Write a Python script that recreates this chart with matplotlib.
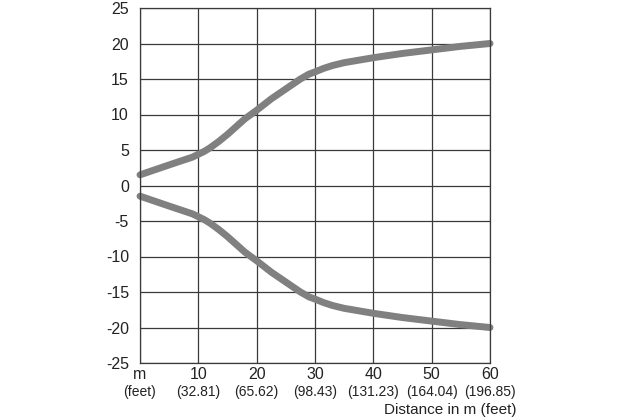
import matplotlib
matplotlib.use("Agg")
import matplotlib.pyplot as plt
import matplotlib.transforms as mtransforms

# Data
x_upper = [0, 5, 9, 10, 11, 12, 13.5, 15, 16.5, 18, 20, 22.5, 25, 27.5, 29, 30, 31.5, 33, 35, 40, 45, 50, 55, 60]
y_upper = [1.5, 2.9, 4.0, 4.4, 4.8, 5.3, 6.2, 7.2, 8.3, 9.4, 10.6, 12.2, 13.6, 15.0, 15.7, 16.0, 16.5, 16.9, 17.3, 18.0, 18.6, 19.1, 19.6, 20.0]
x_lower = [0, 5, 9, 10, 11, 12, 13.5, 15, 16.5, 18, 20, 22.5, 25, 27.5, 29, 30, 31.5, 33, 35, 40, 45, 50, 55, 60]
y_lower = [-1.5, -2.9, -4.0, -4.4, -4.8, -5.3, -6.2, -7.2, -8.3, -9.4, -10.6, -12.2, -13.6, -15.0, -15.7, -16.0, -16.5, -16.9, -17.3, -18.0, -18.6, -19.1, -19.6, -20.0]

x_ticks = [0, 10, 20, 30, 40, 50, 60]
x_tick_labels = ["m", "10", "20", "30", "40", "50", "60"]
x_sub_labels = ["(feet)", "(32.81)", "(65.62)", "(98.43)", "(131.23)", "(164.04)", "(196.85)"]
y_ticks = [-25, -20, -15, -10, -5, 0, 5, 10, 15, 20, 25]
y_tick_labels = ["-25", "-20", "-15", "-10", "-5", "0", "5", "10", "15", "20", "25"]
x_label = "Distance in m (feet)"

plt.rcParams['font.family'] = ['Liberation Sans', 'DejaVu Sans']

fig = plt.figure(figsize=(6.2, 4.2), dpi=100)
ax = fig.add_axes([140/620, 1 - 363/420, 350/620, 355/420])

grid_color = "#3a3a3a"
ax.set_xlim(0, 60)
ax.set_ylim(-25, 25)
ax.set_xticks(x_ticks)
ax.set_yticks(y_ticks)
ax.set_yticklabels(y_tick_labels, fontsize=11.5, color="#222222")
ax.set_xticklabels(x_tick_labels, fontsize=11.5, color="#222222")
ax.tick_params(axis='both', length=0)
ax.tick_params(axis='y', pad=8)
ax.tick_params(axis='x', pad=3)
ax.grid(True, color=grid_color, linewidth=0.9)
for s in ax.spines.values():
    s.set_color(grid_color)
    s.set_linewidth(0.9)
ax.set_axisbelow(True)

line_color = "#808080"
ax.plot(x_upper, y_upper, color=line_color, linewidth=5, solid_capstyle='round', solid_joinstyle='round', clip_on=False)
ax.plot(x_lower, y_lower, color=line_color, linewidth=5, solid_capstyle='round', solid_joinstyle='round', clip_on=False)

trans = mtransforms.blended_transform_factory(ax.transData, fig.transFigure)
for xv, lab in zip(x_ticks, x_sub_labels):
    ax.text(xv, 1 - 392/420, lab, transform=trans, ha='center', va='center', fontsize=10, color="#222222")

fig.text(516/620, 1 - 410/420, x_label, ha='right', va='center', fontsize=11, color="#222222")

fig.savefig("out.png", dpi=100)
